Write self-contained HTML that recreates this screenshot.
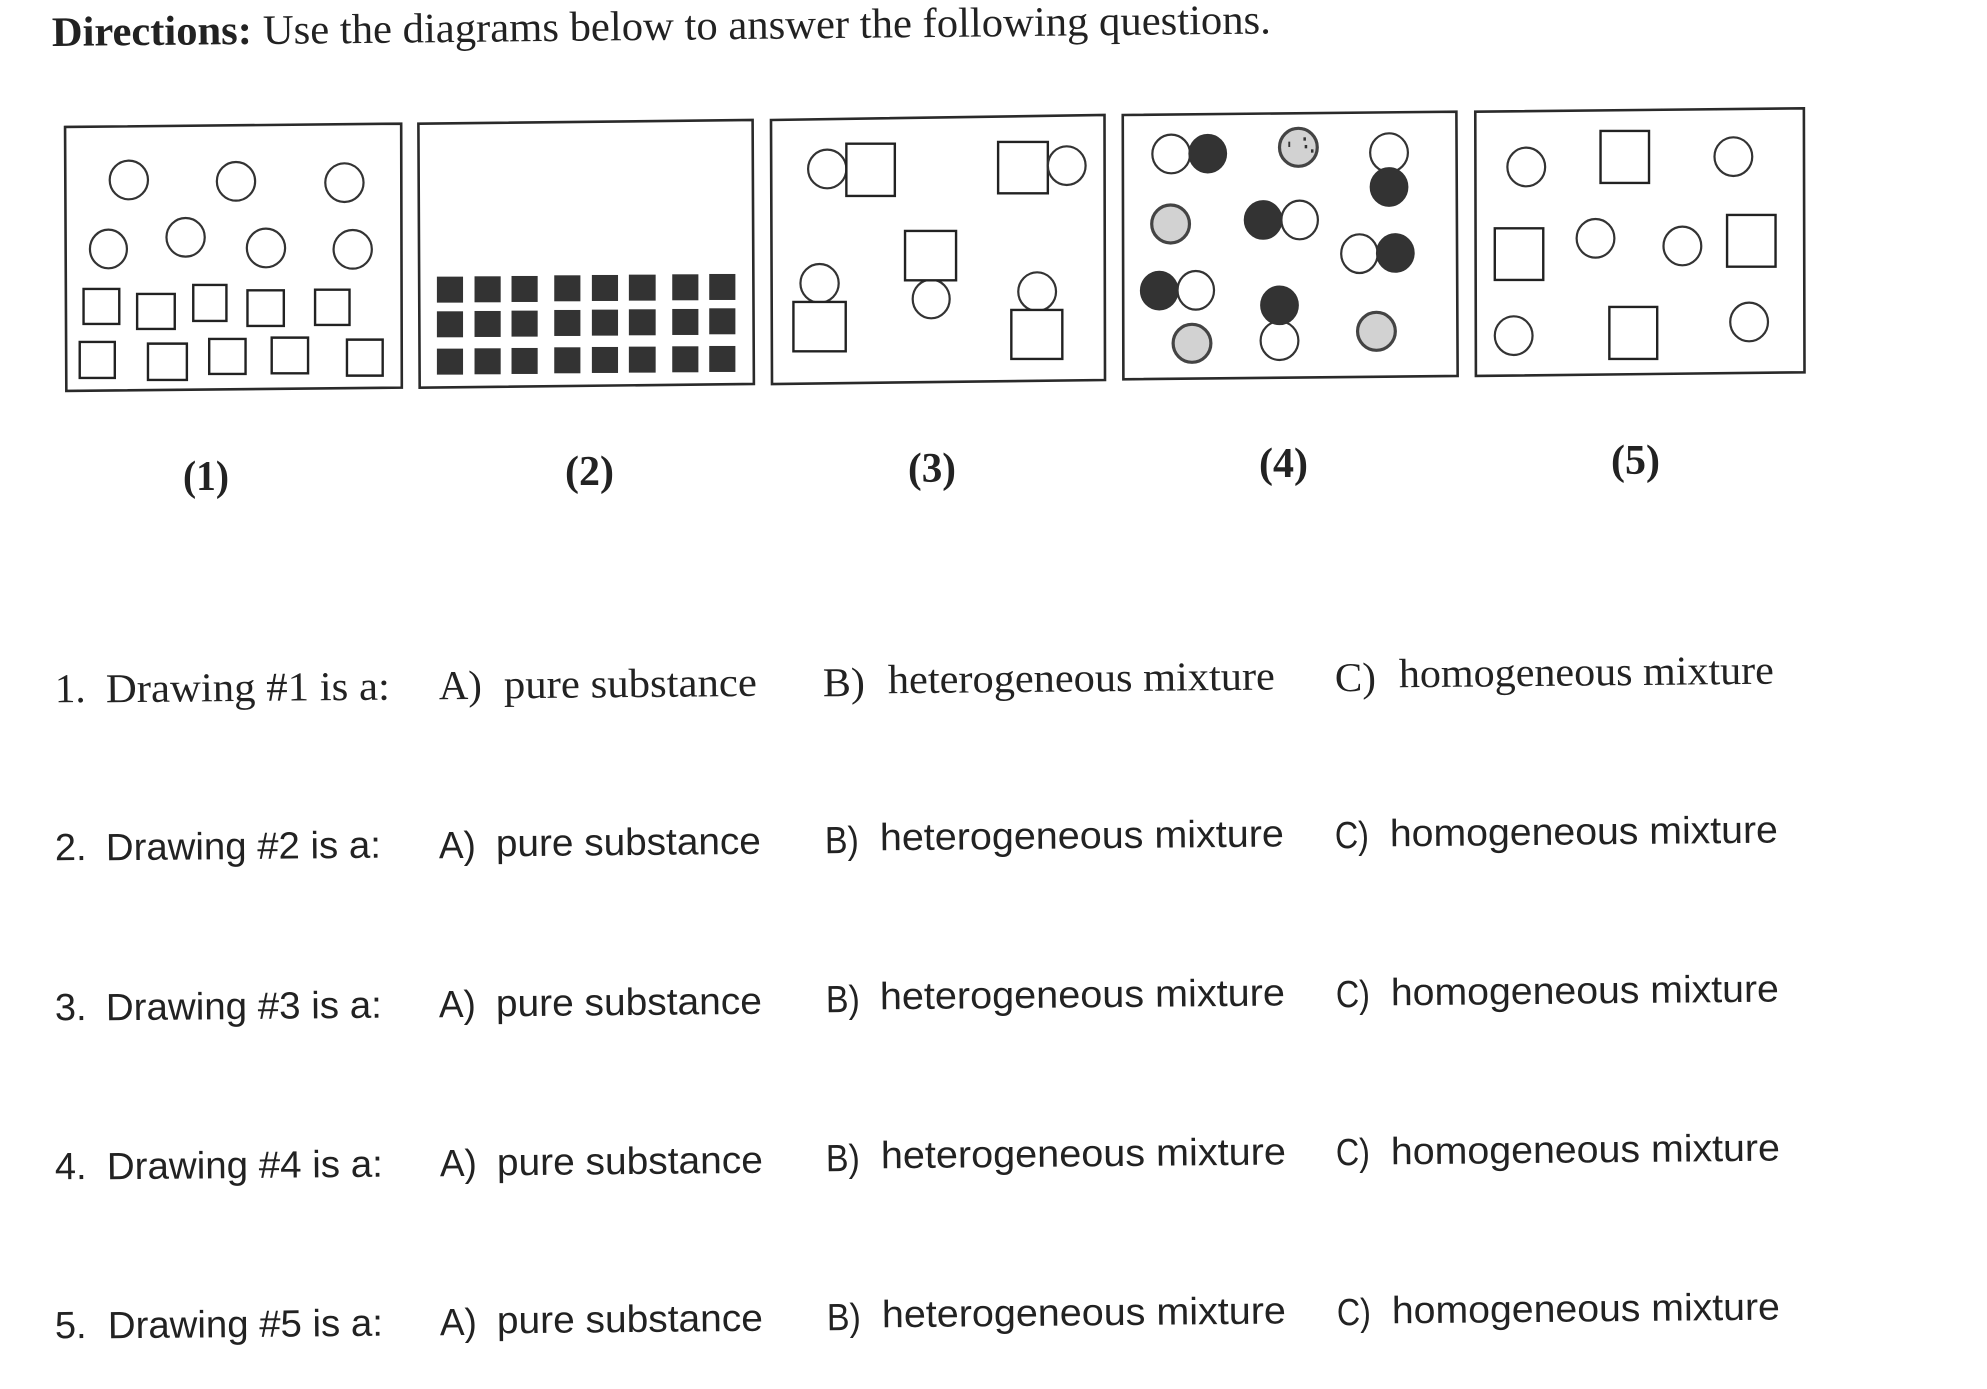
<!DOCTYPE html>
<html><head><meta charset="utf-8"><style>
html,body{margin:0;padding:0;background:#fff;width:1987px;height:1389px;overflow:hidden}
svg{display:block}
rect,ellipse,polygon{vector-effect:non-scaling-stroke}
.o{fill:#fff;stroke:#333;stroke-width:2.2}
.k{fill:#333;stroke:#333;stroke-width:1}
.g{fill:#d2d2d2;stroke:#444;stroke-width:3.2}
.b{fill:#fff;stroke:#2a2a2a;stroke-width:2.6}
.f{fill:#333;stroke:none}
.r{fill:#fff;stroke:#222;stroke-width:2.4}
text{fill:#222}
.s{font-family:"Liberation Serif",serif;font-size:41px}
.h{font-family:"Liberation Serif",serif;font-size:42px}
.l{font-family:"Liberation Serif",serif;font-size:42px;font-weight:bold}
.c{font-family:"Liberation Sans",sans-serif;font-size:38px}
</style></head><body>
<svg width="1987" height="1389" viewBox="0 0 1987 1389" xmlns="http://www.w3.org/2000/svg">
<rect width="1987" height="1389" fill="#fff"/>

<polygon class="b" points="771,120 1104.5,115 1105,380 772,384"/>

<g transform="scale(.6378,.3333)">
<polygon class="b" points="102,381 629,371 630,1163 104,1173"/>
<polygon class="b" points="656,371 1180,360 1182,1152 658,1163"/>
<ellipse class="o" cx="202" cy="540" rx="30" ry="58"/><ellipse class="o" cx="370" cy="544" rx="30" ry="58"/><ellipse class="o" cx="540" cy="548" rx="30" ry="58"/>
<ellipse class="o" cx="170" cy="747" rx="29" ry="58"/><ellipse class="o" cx="291" cy="712" rx="30" ry="58"/><ellipse class="o" cx="417" cy="744" rx="30" ry="58"/><ellipse class="o" cx="553" cy="748" rx="30" ry="58"/>
<rect class="r" x="131" y="867" width="56" height="105"/><rect class="r" x="215" y="882" width="59" height="105"/><rect class="r" x="303" y="855" width="52" height="108"/><rect class="r" x="388" y="871" width="57" height="107"/><rect class="r" x="494" y="869" width="54" height="106"/>
<rect class="r" x="125" y="1026" width="55" height="108"/><rect class="r" x="232" y="1031" width="61" height="109"/><rect class="r" x="328" y="1017" width="57" height="105"/><rect class="r" x="426" y="1013" width="57" height="107"/><rect class="r" x="544" y="1019" width="56" height="108"/>

<rect class="f" x="685" y="830" width="41" height="78"/><rect class="f" x="744" y="829" width="41" height="78"/><rect class="f" x="802" y="828" width="41" height="78"/><rect class="f" x="869" y="826" width="41" height="78"/><rect class="f" x="928" y="825" width="41" height="78"/><rect class="f" x="986" y="824" width="42" height="78"/><rect class="f" x="1054" y="823" width="41" height="78"/><rect class="f" x="1112" y="822" width="41" height="78"/>
<rect class="f" x="685" y="934" width="41" height="78"/><rect class="f" x="744" y="933" width="41" height="78"/><rect class="f" x="802" y="932" width="41" height="78"/><rect class="f" x="869" y="930" width="41" height="78"/><rect class="f" x="928" y="929" width="41" height="78"/><rect class="f" x="986" y="928" width="42" height="78"/><rect class="f" x="1054" y="927" width="41" height="78"/><rect class="f" x="1112" y="925" width="41" height="78"/>
<rect class="f" x="685" y="1046" width="41" height="78"/><rect class="f" x="744" y="1045" width="41" height="78"/><rect class="f" x="802" y="1044" width="41" height="78"/><rect class="f" x="869" y="1042" width="41" height="78"/><rect class="f" x="928" y="1041" width="41" height="78"/><rect class="f" x="986" y="1040" width="42" height="78"/><rect class="f" x="1054" y="1039" width="41" height="78"/><rect class="f" x="1112" y="1038" width="41" height="78"/>

<ellipse class="o" cx="1297" cy="507" rx="30" ry="58"/><rect class="r" x="1327" y="431" width="76" height="157"/>
<ellipse class="o" cx="1285" cy="850" rx="30" ry="58"/><rect class="r" x="1244" y="906" width="82" height="148"/>
<ellipse class="o" cx="1460" cy="897" rx="29" ry="58"/><rect class="r" x="1419" y="693" width="80" height="148"/>
</g>

<g transform="translate(1000,0) scale(.6295,.3333)">
<rect class="r" x="-3" y="426" width="79" height="154"/><ellipse class="o" cx="106" cy="497" rx="30" ry="58"/>
<ellipse class="o" cx="59" cy="875" rx="30" ry="58"/><rect class="r" x="18" y="930" width="81" height="147"/>

<polygon class="b" points="195,345 725,335 727,1128 196,1138"/>
<ellipse class="o" cx="272" cy="462" rx="30" ry="58"/><ellipse class="k" cx="330" cy="461" rx="30" ry="58"/>
<ellipse class="g" cx="474" cy="442" rx="30" ry="57"/>
<rect class="f" x="458" y="425" width="3" height="16"/><rect class="f" x="482" y="412" width="4" height="10"/><rect class="f" x="484" y="435" width="4" height="10"/><rect class="f" x="494" y="448" width="4" height="10"/>
<ellipse class="o" cx="618" cy="458" rx="30" ry="58"/><ellipse class="k" cx="618" cy="561" rx="30" ry="58"/>
<ellipse class="g" cx="271" cy="672" rx="30" ry="57"/>
<ellipse class="k" cx="418" cy="660" rx="30" ry="58"/><ellipse class="o" cx="476" cy="660" rx="29" ry="58"/>
<ellipse class="o" cx="571" cy="761" rx="29" ry="58"/><ellipse class="k" cx="628" cy="759" rx="30" ry="58"/>
<ellipse class="k" cx="253" cy="872" rx="30" ry="58"/><ellipse class="o" cx="311" cy="871" rx="29" ry="58"/>
<ellipse class="o" cx="444" cy="1022" rx="30" ry="58"/><ellipse class="k" cx="444" cy="916" rx="30" ry="58"/>
<ellipse class="g" cx="305" cy="1030" rx="30" ry="57"/><ellipse class="g" cx="598" cy="994" rx="30" ry="57"/>

<polygon class="b" points="755,335 1277,325 1278,1117 756,1128"/>
<ellipse class="o" cx="836" cy="501" rx="30" ry="58"/><ellipse class="o" cx="1165" cy="470" rx="30" ry="58"/><ellipse class="o" cx="946" cy="715" rx="30" ry="58"/><ellipse class="o" cx="1084" cy="738" rx="30" ry="58"/><ellipse class="o" cx="816" cy="1007" rx="30" ry="58"/><ellipse class="o" cx="1190" cy="966" rx="30" ry="58"/>
<rect class="r" x="954" y="393" width="77" height="156"/><rect class="r" x="786" y="685" width="77" height="155"/><rect class="r" x="1155" y="645" width="77" height="155"/><rect class="r" x="968" y="921" width="76" height="156"/>
</g>

<text class="h" font-weight="bold" x="52" y="46" textLength="200" lengthAdjust="spacingAndGlyphs" transform="rotate(-.6 52 46)">Directions:</text>
<text class="h" x="263" y="44" textLength="1008" lengthAdjust="spacingAndGlyphs" transform="rotate(-.6 263 44)">Use the diagrams below to answer the following questions.</text>

<text class="l" x="183" y="490" textLength="46" lengthAdjust="spacingAndGlyphs">(1)</text>
<text class="l" x="565" y="485" textLength="49" lengthAdjust="spacingAndGlyphs">(2)</text>
<text class="l" x="908" y="482" textLength="48" lengthAdjust="spacingAndGlyphs">(3)</text>
<text class="l" x="1259" y="477" textLength="49" lengthAdjust="spacingAndGlyphs">(4)</text>
<text class="l" x="1611" y="474" textLength="49" lengthAdjust="spacingAndGlyphs">(5)</text>

<g transform="translate(0,1.3)">
<text class="s" x="55" y="701" transform="rotate(-.55 55 701)">1.</text>
<text class="s" x="106" y="701" textLength="284" lengthAdjust="spacingAndGlyphs" transform="rotate(-.55 106 701)">Drawing #1 is a:</text>
<text class="s" x="439" y="698" textLength="43" lengthAdjust="spacingAndGlyphs" transform="rotate(-.55 439 698)">A)</text>
<text class="s" x="504" y="697" textLength="253" lengthAdjust="spacingAndGlyphs" transform="rotate(-.55 504 697)">pure substance</text>
<text class="s" x="823" y="695" textLength="42" lengthAdjust="spacingAndGlyphs" transform="rotate(-.55 823 695)">B)</text>
<text class="s" x="888" y="692" textLength="387" lengthAdjust="spacingAndGlyphs" transform="rotate(-.55 888 692)">heterogeneous mixture</text>
<text class="s" x="1335" y="690" textLength="41" lengthAdjust="spacingAndGlyphs" transform="rotate(-.55 1335 690)">C)</text>
<text class="s" x="1399" y="686" textLength="375" lengthAdjust="spacingAndGlyphs" transform="rotate(-.55 1399 686)">homogeneous mixture</text>

<text class="c" x="55" y="859" transform="rotate(-.55 55 859)">2.</text>
<text class="c" x="106" y="859" textLength="275" lengthAdjust="spacingAndGlyphs" transform="rotate(-.55 106 859)">Drawing #2 is a:</text>
<text class="c" x="439" y="857" textLength="37" lengthAdjust="spacingAndGlyphs" transform="rotate(-.55 439 857)">A)</text>
<text class="c" x="496" y="855" textLength="265" lengthAdjust="spacingAndGlyphs" transform="rotate(-.55 496 855)">pure substance</text>
<text class="c" x="825" y="852" textLength="34" lengthAdjust="spacingAndGlyphs" transform="rotate(-.55 825 852)">B)</text>
<text class="c" x="880" y="849" textLength="404" lengthAdjust="spacingAndGlyphs" transform="rotate(-.55 880 849)">heterogeneous mixture</text>
<text class="c" x="1335" y="847" textLength="34" lengthAdjust="spacingAndGlyphs" transform="rotate(-.55 1335 847)">C)</text>
<text class="c" x="1390" y="845" textLength="388" lengthAdjust="spacingAndGlyphs" transform="rotate(-.55 1390 845)">homogeneous mixture</text>

<text class="c" x="55" y="1019" transform="rotate(-.55 55 1019)">3.</text>
<text class="c" x="106" y="1019" textLength="276" lengthAdjust="spacingAndGlyphs" transform="rotate(-.55 106 1019)">Drawing #3 is a:</text>
<text class="c" x="439" y="1016" textLength="37" lengthAdjust="spacingAndGlyphs" transform="rotate(-.55 439 1016)">A)</text>
<text class="c" x="496" y="1015" textLength="266" lengthAdjust="spacingAndGlyphs" transform="rotate(-.55 496 1015)">pure substance</text>
<text class="c" x="826" y="1011" textLength="34" lengthAdjust="spacingAndGlyphs" transform="rotate(-.55 826 1011)">B)</text>
<text class="c" x="880" y="1008" textLength="405" lengthAdjust="spacingAndGlyphs" transform="rotate(-.55 880 1008)">heterogeneous mixture</text>
<text class="c" x="1336" y="1006" textLength="34" lengthAdjust="spacingAndGlyphs" transform="rotate(-.55 1336 1006)">C)</text>
<text class="c" x="1391" y="1004" textLength="388" lengthAdjust="spacingAndGlyphs" transform="rotate(-.55 1391 1004)">homogeneous mixture</text>

<text class="c" x="55" y="1178" transform="rotate(-.55 55 1178)">4.</text>
<text class="c" x="107" y="1178" textLength="276" lengthAdjust="spacingAndGlyphs" transform="rotate(-.55 107 1178)">Drawing #4 is a:</text>
<text class="c" x="440" y="1175" textLength="37" lengthAdjust="spacingAndGlyphs" transform="rotate(-.55 440 1175)">A)</text>
<text class="c" x="497" y="1174" textLength="266" lengthAdjust="spacingAndGlyphs" transform="rotate(-.55 497 1174)">pure substance</text>
<text class="c" x="826" y="1170" textLength="34" lengthAdjust="spacingAndGlyphs" transform="rotate(-.55 826 1170)">B)</text>
<text class="c" x="881" y="1167" textLength="405" lengthAdjust="spacingAndGlyphs" transform="rotate(-.55 881 1167)">heterogeneous mixture</text>
<text class="c" x="1336" y="1164" textLength="34" lengthAdjust="spacingAndGlyphs" transform="rotate(-.55 1336 1164)">C)</text>
<text class="c" x="1391" y="1163" textLength="389" lengthAdjust="spacingAndGlyphs" transform="rotate(-.55 1391 1163)">homogeneous mixture</text>

<text class="c" x="55" y="1337" transform="rotate(-.55 55 1337)">5.</text>
<text class="c" x="108" y="1337" textLength="275" lengthAdjust="spacingAndGlyphs" transform="rotate(-.55 108 1337)">Drawing #5 is a:</text>
<text class="c" x="440" y="1334" textLength="37" lengthAdjust="spacingAndGlyphs" transform="rotate(-.55 440 1334)">A)</text>
<text class="c" x="497" y="1332" textLength="266" lengthAdjust="spacingAndGlyphs" transform="rotate(-.55 497 1332)">pure substance</text>
<text class="c" x="827" y="1329" textLength="34" lengthAdjust="spacingAndGlyphs" transform="rotate(-.55 827 1329)">B)</text>
<text class="c" x="882" y="1326" textLength="404" lengthAdjust="spacingAndGlyphs" transform="rotate(-.55 882 1326)">heterogeneous mixture</text>
<text class="c" x="1337" y="1324" textLength="34" lengthAdjust="spacingAndGlyphs" transform="rotate(-.55 1337 1324)">C)</text>
<text class="c" x="1392" y="1322" textLength="388" lengthAdjust="spacingAndGlyphs" transform="rotate(-.55 1392 1322)">homogeneous mixture</text>
</g>
</svg>
</body></html>
